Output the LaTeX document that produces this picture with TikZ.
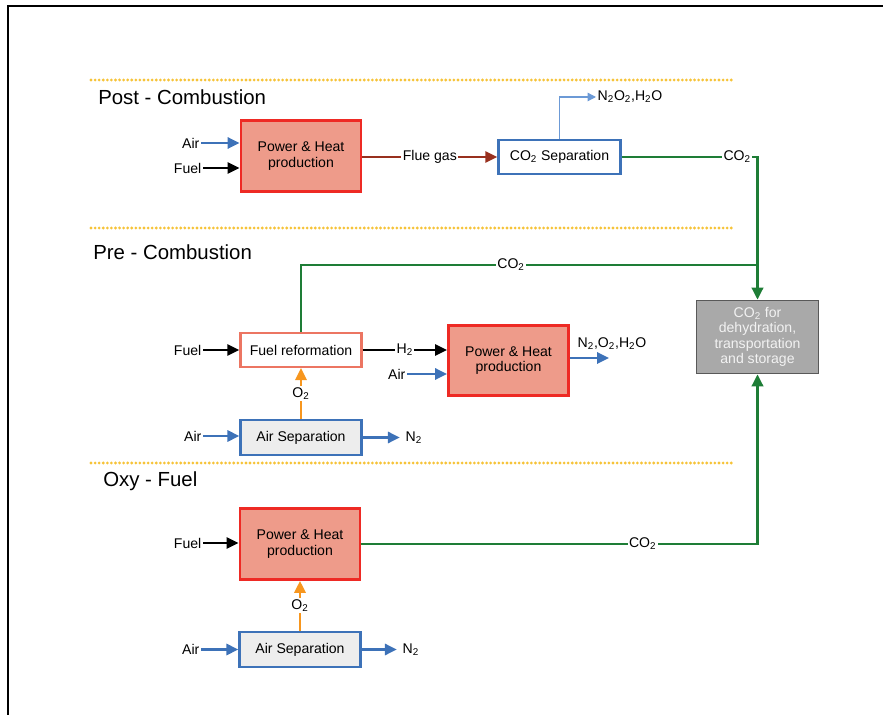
\documentclass[tikz,border=0pt]{standalone}
\usepackage{fontspec}
\setmainfont{Liberation Sans}
\usepackage{tikz}
\usetikzlibrary{arrows.meta, positioning, calc}

\definecolor{heatfill}{HTML}{EE9B8A}
\definecolor{heatred}{HTML}{EE2A24}
\definecolor{sepblue}{HTML}{3D72B8}
\definecolor{ventblue}{HTML}{6C9AD6}
\definecolor{co2green}{HTML}{1E7D36}
\definecolor{fluebrown}{HTML}{98301E}
\definecolor{oxyorange}{HTML}{F7961E}
\definecolor{dotgold}{HTML}{F6C338}
\definecolor{reformcoral}{HTML}{EC7562}
\definecolor{storegray}{HTML}{A9A9A9}

\newcommand{\two}{\textsubscript{2}}

\begin{document}
\begin{tikzpicture}[x=0.025cm, y=-0.025cm, font=\fontsize{10}{11}\selectfont,
  heatbox/.style={draw=heatred, line width=2.1pt, fill=heatfill, minimum width=3.0cm, minimum height=1.77cm, align=center},
  sepbox/.style={draw=sepblue, line width=1.8pt, fill=white, minimum width=3.05cm, minimum height=0.84cm},
  asubox/.style={draw=sepblue, line width=1.8pt, fill=black!7, minimum width=3.02cm, minimum height=0.88cm},
  reformbox/.style={draw=reformcoral, line width=1.8pt, fill=white, minimum width=3.02cm, minimum height=0.84cm},
  storebox/.style={draw=black!65, line width=1pt, fill=storegray, text=black!5, minimum width=3.05cm, minimum height=1.83cm, align=center, font=\fontsize{10}{11}\selectfont},
  feed/.style={inner sep=1pt},
  lbl/.style={fill=white, text=black, inner sep=1pt},
  heading/.style={anchor=west, inner sep=0pt, font=\fontsize{14.5}{16}\selectfont},
  tip/.style={-{Triangle[length=8.5pt, width=8pt]}},
  airline/.style={tip, sepblue, line width=1.7pt},
  fuelline/.style={tip, black, line width=1.5pt},
  o2line/.style={tip, oxyorange, line width=1.7pt},
  co2line/.style={co2green, line width=1.9pt},
  border/.style={dotgold, line width=2.2pt, dash pattern=on 0pt off 2.9pt, line cap=round}]
\useasboundingbox (0,0) rectangle (883,715);
% frame
\draw[line width=2pt] (8,715) -- (8,6) -- (883,6);
% section separators
\draw[border] (91,80) -- (735,80);
\draw[border] (91,228) -- (735,228);
\draw[border] (91,463) -- (735,463);
\node[heading] (posthd) at (98,97) {Post - Combustion};
\node[heading] (prehd) at (93,252) {Pre - Combustion};
\node[heading] (oxyhd) at (103,481) {Oxy - Fuel};

% storage
\node[storebox] (store) at (757.5,337) {CO\two{} for\\dehydration,\\transportation\\and storage};

% post-combustion
\node[heatbox] (postph) at (301,156) {Power \& Heat\\production};
\node[sepbox] (postsep) at (559.5,157) {CO\two{} Separation};
\node[feed, anchor=east] (postair) at (201,143) {Air};
\node[feed, anchor=east] (postfuel) at (203,168) {Fuel};
\node[feed, anchor=west] (postvent) at (596,97) {N\two O\two,H\two O};
\draw[airline] (postair) -- (postair -| postph.west);
\draw[fuelline] (postfuel) -- (postfuel -| postph.west);
\draw[tip, fluebrown, line width=1.7pt] (postph.east |- postsep.west) -- node[lbl] {Flue gas} (postsep.west);
\draw[-{Triangle[length=6pt, width=6pt]}, ventblue, line width=0.9pt] (postsep.north) |- (postvent.west);
\draw[co2line, tip] (postsep.east) -- node[lbl, pos=0.85] {CO\two} (postsep.east -| store.north) -- (store.north);

% pre-combustion
\node[reformbox] (preref) at (301,350) {Fuel reformation};
\node[heatbox] (preph) at (508.5,360.5) {Power \& Heat\\production};
\node[asubox] (preasu) at (301,437.5) {Air Separation};
\node[feed, anchor=east] (prefuel) at (203,350) {Fuel};
\node[feed, anchor=east] (preair) at (407,374) {Air};
\node[feed, anchor=east] (preasuair) at (203,436) {Air};
\node[feed, anchor=west] (pren2) at (404,437.5) {N\two};
\node[feed] (preexh) at (612,344) {N\two,O\two,H\two O};
\coordinate (preexhend) at (609,358);
\coordinate (prejoin) at (757.5,265);
\draw[fuelline] (prefuel) -- (preref.west);
\draw[fuelline] (preref.east) -- node[lbl] {H\two} (preref.east -| preph.west);
\draw[airline] (preair) -- (preair -| preph.west);
\draw[airline] (preph.east |- preexhend) -- (preexhend);
\draw[airline] (preasuair) -- (preasuair -| preasu.west);
\draw[airline, shorten >=3pt] (preasu.east) -- (pren2.west);
\draw[o2line] (preasu.north) -- node[lbl] {O\two} (preref.south);
\draw[co2line] (preref.north) |- node[lbl, pos=0.73] {CO\two} (prejoin);

% oxy-fuel
\node[heatbox] (oxyph) at (300,544) {Power \& Heat\\production};
\node[asubox] (oxyasu) at (300,649.5) {Air Separation};
\node[feed, anchor=east] (oxyfuel) at (203,543) {Fuel};
\node[feed, anchor=east] (oxyair) at (201,649.5) {Air};
\node[feed, anchor=west] (oxyn2) at (401,649.5) {N\two};
\draw[fuelline] (oxyfuel) -- (oxyfuel -| oxyph.west);
\draw[airline] (oxyair) -- (oxyair -| oxyasu.west);
\draw[airline, shorten >=3pt] (oxyasu.east) -- (oxyn2.west);
\draw[o2line] (oxyasu.north) -- node[lbl] {O\two} (oxyph.south);
\draw[co2line, tip] (oxyph.east) -- node[lbl, pos=0.71] {CO\two} (oxyph.east -| store.south) -- (store.south);
\end{tikzpicture}
\end{document}
